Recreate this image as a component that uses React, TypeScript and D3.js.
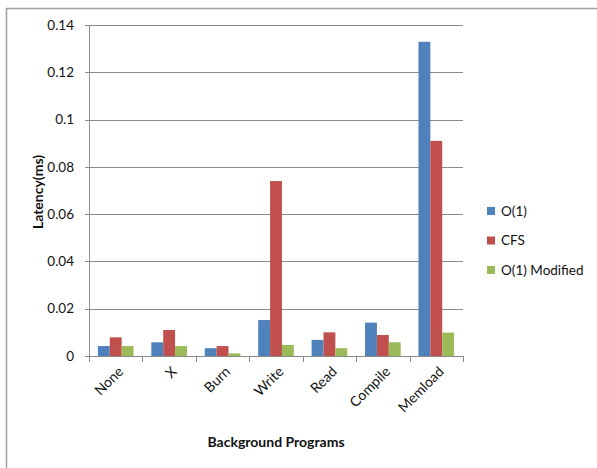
import React from "react";
import * as d3 from "d3";

const categories = ["None", "X", "Burn", "Write", "Read", "Compile", "Memload"];
const seriesNames = ["O(1)", "CFS", "O(1) Modified"];
const o1Values = [0.0042, 0.0058, 0.0033, 0.0152, 0.0068, 0.0141, 0.1329];
const cfsValues = [0.0079, 0.011, 0.0042, 0.074, 0.01, 0.0089, 0.091];
const o1ModValues = [0.0042, 0.0042, 0.0011, 0.0047, 0.0033, 0.0058, 0.0099];
const yTicks = [0, 0.02, 0.04, 0.06, 0.08, 0.1, 0.12, 0.14];
const yTickLabels = ["0", "0.02", "0.04", "0.06", "0.08", "0.1", "0.12", "0.14"];
const colors = ["#4F81BD", "#C0504D", "#9BBB59"];

const W = 597;
const H = 468;
const plot = { left: 89, right: 463, top: 25, bottom: 356 };
const FONT = "Lato, 'Open Sans', sans-serif";

export default function App() {
  const series = [o1Values, cfsValues, o1ModValues];
  const x0 = d3
    .scaleBand<string>()
    .domain(categories)
    .range([plot.left, plot.right])
    .paddingInner(0)
    .paddingOuter(0);
  const bw = x0.bandwidth();
  const barW = bw / 4.5;
  const x1 = d3
    .scaleBand<number>()
    .domain([0, 1, 2])
    .range([bw / 2 - 1.5 * barW, bw / 2 + 1.5 * barW]);
  const y = d3.scaleLinear().domain([0, 0.14]).range([plot.bottom, plot.top]);

  const tickXs = categories.map((c) => x0(c)!).concat([plot.right]);

  return (
    <svg
      width={W}
      height={H}
      style={{ position: "absolute", left: 0, top: 0, background: "#fff" }}
      fontFamily={FONT}
    >
      {/* frame */}
      <line x1={6.5} y1={8} x2={6.5} y2={H} stroke="#a0a0a0" strokeWidth={1.5} />
      <line x1={6} y1={8.5} x2={W} y2={8.5} stroke="#a0a0a0" strokeWidth={1.5} />

      {/* gridlines and y ticks */}
      {yTicks.map((t, i) => (
        <g key={t}>
          <line
            x1={plot.left - 4}
            x2={plot.right}
            y1={Math.round(y(t)) + 0.5}
            y2={Math.round(y(t)) + 0.5}
            stroke="#8c8c8c"
            strokeWidth={1}
          />
          <text
            x={plot.left - 15}
            y={y(t)}
            dy="0.35em"
            textAnchor="end"
            fontSize={13.5}
            fill="#111"
          >
            {yTickLabels[i]}
          </text>
        </g>
      ))}

      {/* y axis */}
      <line x1={plot.left + 0.5} x2={plot.left + 0.5} y1={plot.top} y2={plot.bottom + 5} stroke="#8c8c8c" />

      {/* bars */}
      {categories.map((c, ci) => (
        <g key={c} transform={`translate(${x0(c)},0)`}>
          {series.map((vals, si) => (
            <rect
              key={si}
              x={x1(si)}
              width={x1.bandwidth()}
              y={y(vals[ci])}
              height={y(0) - y(vals[ci])}
              fill={colors[si]}
            />
          ))}
        </g>
      ))}

      {/* x axis */}
      <line x1={plot.left} x2={plot.right} y1={plot.bottom + 0.5} y2={plot.bottom + 0.5} stroke="#8c8c8c" />
      {tickXs.map((tx, i) => (
        <line
          key={i}
          x1={Math.round(tx) + 0.5}
          x2={Math.round(tx) + 0.5}
          y1={plot.bottom}
          y2={plot.bottom + 6}
          stroke="#8c8c8c"
        />
      ))}

      {/* category labels */}
      {categories.map((c) => {
        const cx = x0(c)! + bw / 2 + 5;
        const cy = plot.bottom + 13;
        return (
          <text
            key={c}
            transform={`translate(${cx},${cy}) rotate(-45)`}
            textAnchor="end"
            dy="0.35em"
            fontSize={14}
            fill="#111"
          >
            {c}
          </text>
        );
      })}

      {/* axis titles */}
      <text
        transform={`translate(38,192) rotate(-90)`}
        textAnchor="middle"
        dy="0.35em"
        fontSize={14}
        fontWeight="bold"
        fill="#111"
      >
        Latency(ms)
      </text>
      <text x={276} y={442} dy="0.35em" textAnchor="middle" fontSize={14} fontWeight="bold" fill="#111">
        Background Programs
      </text>

      {/* legend */}
      {seriesNames.map((name, i) => {
        const ly = 211 + i * 29.5;
        return (
          <g key={name}>
            <rect x={487} y={ly - 4} width={8} height={8} fill={colors[i]} />
            <text x={501} y={ly} dy="0.35em" fontSize={13.5} fill="#111">
              {name}
            </text>
          </g>
        );
      })}
    </svg>
  );
}
